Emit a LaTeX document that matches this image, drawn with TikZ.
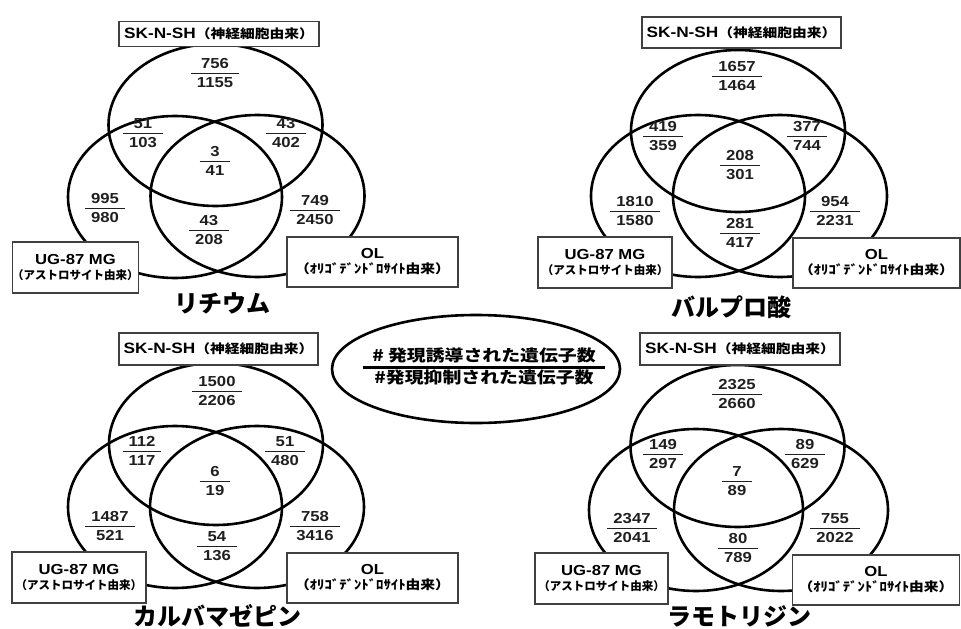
\documentclass[tikz,border=0pt]{standalone}
\usepackage{fontspec}
\setmainfont{Liberation Sans}[FakeStretch=1.15]
\newfontfamily\jp{Noto Sans CJK JP}[FakeStretch=1.18]
\newfontfamily\jpw{Noto Sans CJK JP}
\newfontfamily\jpt{Noto Sans CJK JP}
\usetikzlibrary{shapes.geometric}
\setlength\arrayrulewidth{1.8pt}
\renewcommand\arraystretch{0.8}
\newcommand\fr[2]{\begin{tabular}{@{\hspace{6pt}}c@{\hspace{6pt}}}#1\\\hline\rule{0pt}{13pt}#2\end{tabular}}
\tikzset{
  vring/.style={ellipse, draw=black, line width=2.6pt, minimum width=214pt, minimum height=162pt, inner sep=0},
  lab/.style={draw=black!75, line width=1.1pt, fill=white, inner sep=0, align=center},
  num/.style={inner sep=0, text=black!88, font=\bfseries\fontsize{14.5}{16}\selectfont},
  ttl/.style={inner sep=0, font=\jpt\bfseries\fontsize{24}{26}\selectfont},
}
\newcommand\sklab{{\bfseries\fontsize{15}{17}\selectfont SK-N-SH}{\jp\bfseries\fontsize{12.5}{14}\selectfont （神経細胞由来）}}
\newcommand\uglab{{\bfseries\fontsize{14.5}{16}\selectfont UG-87 MG}\\[3pt]{\jpw\bfseries\fontsize{11.5}{14}\selectfont （アストロサイト由来）}}
\newcommand\ollab{{\bfseries\fontsize{14.5}{16}\selectfont OL}\\[3pt]{\jp\bfseries\fontsize{12.5}{14}\selectfont （ｵﾘｺﾞﾃﾞﾝﾄﾞﾛｻｲﾄ由来）}}
\begin{document}
\begin{tikzpicture}[x=1pt,y=-1pt]
\useasboundingbox[fill=white] (0,0) rectangle (961,629);

% ---------- top left: Lithium
\node[vring] (tla) at (215.5,125) {};
\node[vring] (tlb) at (175,197) {};
\node[vring] (tlc) at (257.5,196) {};
\node[lab, minimum width=200pt, minimum height=25pt] (tlsk) at (219,34) {\sklab};
\node[lab, minimum width=125pt, minimum height=51pt] (tlug) at (75.5,267.5) {\uglab};
\node[lab, minimum width=171pt, minimum height=50pt] (tlol) at (372.5,262) {\ollab};
\node[num] (tl1) at (215,75) {\fr{756}{1155}};
\node[num] (tl2) at (143,135) {\fr{51}{103}};
\node[num] (tl3) at (286,135) {\fr{43}{402}};
\node[num] (tl4) at (215,163) {\fr{3}{41}};
\node[num] (tl5) at (105,210) {\fr{995}{980}};
\node[num] (tl6) at (209,232) {\fr{43}{208}};
\node[num] (tl7) at (315,212) {\fr{749}{2450}};
\node[ttl] (tlt) at (222,303) {リチウム};

% ---------- top right: Valproic acid
\node[vring] (tra) at (738,131) {};
\node[vring] (trb) at (698,196) {};
\node[vring] (trc) at (780,196) {};
\node[lab, minimum width=199pt, minimum height=31pt] (trsk) at (741.5,32.5) {\sklab};
\node[lab, minimum width=134pt, minimum height=51pt] (trug) at (605,262.5) {\uglab};
\node[lab, minimum width=167pt, minimum height=50pt] (trol) at (876.5,263) {\ollab};
\node[num] (tr1) at (737,78) {\fr{1657}{1464}};
\node[num] (tr2) at (663,138) {\fr{419}{359}};
\node[num] (tr3) at (807,138) {\fr{377}{744}};
\node[num] (tr4) at (740,167) {\fr{208}{301}};
\node[num] (tr5) at (635,213) {\fr{1810}{1580}};
\node[num] (tr6) at (740,235) {\fr{281}{417}};
\node[num] (tr7) at (835,213) {\fr{954}{2231}};
\node[ttl] (trt) at (731,307) {バルプロ酸};

% ---------- bottom left: Carbamazepine
\node[vring] (bla) at (216,444) {};
\node[vring] (blb) at (175,507) {};
\node[vring] (blc) at (257,507) {};
\node[lab, minimum width=199pt, minimum height=32pt] (blsk) at (218.5,349) {\sklab};
\node[lab, minimum width=134pt, minimum height=51pt] (blug) at (79,577.5) {\uglab};
\node[lab, minimum width=171pt, minimum height=50pt] (blol) at (372.5,578) {\ollab};
\node[num] (bl1) at (217,393) {\fr{1500}{2206}};
\node[num] (bl2) at (142,453) {\fr{112}{117}};
\node[num] (bl3) at (285,453) {\fr{51}{480}};
\node[num] (bl4) at (215,483) {\fr{6}{19}};
\node[num] (bl5) at (110,528) {\fr{1487}{521}};
\node[num] (bl6) at (217,548) {\fr{54}{136}};
\node[num] (bl7) at (315,528) {\fr{758}{3416}};
\node[ttl] (blt) at (217,616) {カルバマゼピン};

% ---------- bottom right: Lamotrigine
\node[vring] (bra) at (737.5,446) {};
\node[vring] (brb) at (696,510) {};
\node[vring] (brc) at (781,510) {};
\node[lab, minimum width=200pt, minimum height=32pt] (brsk) at (740,349) {\sklab};
\node[lab, minimum width=133pt, minimum height=51pt] (brug) at (601.5,578.5) {\uglab};
\node[lab, minimum width=167pt, minimum height=50pt] (brol) at (876,580) {\ollab};
\node[num] (br1) at (737,396) {\fr{2325}{2660}};
\node[num] (br2) at (663,456) {\fr{149}{297}};
\node[num] (br3) at (805,456) {\fr{89}{629}};
\node[num] (br4) at (737,483) {\fr{7}{89}};
\node[num] (br5) at (632,530) {\fr{2347}{2041}};
\node[num] (br6) at (738,550) {\fr{80}{789}};
\node[num] (br7) at (835,530) {\fr{755}{2022}};
\node[ttl] (brt) at (739,616) {ラモトリジン};

% ---------- legend
\node[ellipse, draw=black, line width=2.6pt, minimum width=288pt, minimum height=108pt, inner sep=0] (leg) at (476,369) {};
\begingroup
\setlength\arrayrulewidth{2.4pt}
\node[inner sep=0, font=\jp\bfseries\fontsize{16}{18}\selectfont] (legt) at (484,368)
  {\begin{tabular}{@{\hspace{9pt}}c@{\hspace{9pt}}}\# 発現誘導された遺伝子数\\\hline\rule{0pt}{15pt}\#発現抑制された遺伝子数\end{tabular}};
\endgroup
\end{tikzpicture}
\end{document}
